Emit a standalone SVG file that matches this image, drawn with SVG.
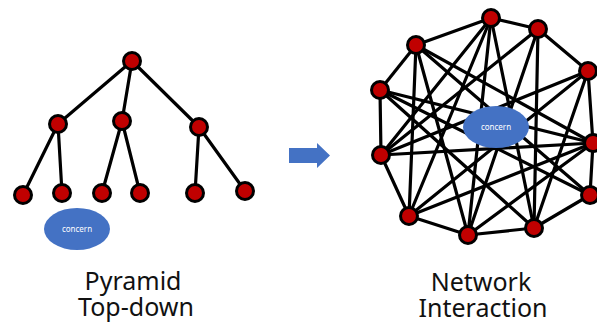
<svg xmlns="http://www.w3.org/2000/svg" width="597" height="325" viewBox="0 0 597 325">
  <style>
    .edge { stroke: #000; stroke-width: 3.2; stroke-linecap: round; fill: none; }
    .node { fill: #C00000; stroke: #000; stroke-width: 3; }
    .concern { fill: #4472C4; }
    .concern-text { fill: #fff; font-family: "Noto Sans", "DejaVu Sans", sans-serif; font-size: 8px; text-anchor: middle; }
    .caption { fill: #111; font-family: "Noto Sans", "DejaVu Sans", sans-serif; font-size: 25px; text-anchor: middle; }
  </style>
  <rect width="597" height="325" fill="#fff"/>

  <!-- Pyramid tree: connectors -->
  <g id="tree-edges">
    <line class="edge" x1="132" y1="61" x2="58" y2="124"/>
    <line class="edge" x1="132" y1="61" x2="122" y2="121"/>
    <line class="edge" x1="132" y1="61" x2="199" y2="127"/>
    <line class="edge" x1="58" y1="124" x2="23" y2="195"/>
    <line class="edge" x1="58" y1="124" x2="62" y2="193"/>
    <line class="edge" x1="122" y1="121" x2="102" y2="193"/>
    <line class="edge" x1="122" y1="121" x2="140" y2="193"/>
    <line class="edge" x1="199" y1="127" x2="195" y2="193"/>
    <line class="edge" x1="199" y1="127" x2="245" y2="191"/>
  </g>

  <!-- Pyramid tree: nodes -->
  <g id="t-root"><circle class="node" cx="132" cy="61" r="8.5"/></g>
  <g id="t-l1"><circle class="node" cx="58" cy="124" r="8.5"/></g>
  <g id="t-l2"><circle class="node" cx="122" cy="121" r="8.5"/></g>
  <g id="t-l3"><circle class="node" cx="199" cy="127" r="8.5"/></g>
  <g id="t-c1"><circle class="node" cx="23" cy="195" r="8.5"/></g>
  <g id="t-c2"><circle class="node" cx="62" cy="193" r="8.5"/></g>
  <g id="t-c3"><circle class="node" cx="102" cy="193" r="8.5"/></g>
  <g id="t-c4"><circle class="node" cx="140" cy="193" r="8.5"/></g>
  <g id="t-c5"><circle class="node" cx="195" cy="193" r="8.5"/></g>
  <g id="t-c6"><circle class="node" cx="245" cy="191" r="8.5"/></g>

  <g id="tree-concern">
    <ellipse class="concern" cx="77" cy="229" rx="33" ry="21"/>
    <text class="concern-text" x="77" y="232">concern</text>
  </g>

  <!-- Transition arrow -->
  <g id="arrow">
    <polygon fill="#4472C4" points="289,148 317,148 317,143 330,155.5 317,168 317,163 289,163"/>
  </g>

  <!-- Network: connectors -->
  <g id="net-edges">
    <!-- ring -->
    <line class="edge" x1="416" y1="45" x2="491" y2="18"/>
    <line class="edge" x1="491" y1="18" x2="538" y2="29"/>
    <line class="edge" x1="538" y1="29" x2="588" y2="71"/>
    <line class="edge" x1="588" y1="71" x2="593" y2="143"/>
    <line class="edge" x1="593" y1="143" x2="590" y2="195"/>
    <line class="edge" x1="590" y1="195" x2="534" y2="228"/>
    <line class="edge" x1="534" y1="228" x2="468" y2="235"/>
    <line class="edge" x1="468" y1="235" x2="409" y2="216"/>
    <line class="edge" x1="409" y1="216" x2="381" y2="155"/>
    <line class="edge" x1="381" y1="155" x2="380" y2="90"/>
    <line class="edge" x1="380" y1="90" x2="416" y2="45"/>
    <!-- chords -->
    <line class="edge" x1="416" y1="45" x2="409" y2="216"/>
    <line class="edge" x1="416" y1="45" x2="468" y2="235"/>
    <line class="edge" x1="416" y1="45" x2="590" y2="195"/>
    <line class="edge" x1="416" y1="45" x2="593" y2="143"/>
    <line class="edge" x1="380" y1="90" x2="593" y2="143"/>
    <line class="edge" x1="380" y1="90" x2="590" y2="195"/>
    <line class="edge" x1="380" y1="90" x2="534" y2="228"/>
    <line class="edge" x1="381" y1="155" x2="491" y2="18"/>
    <line class="edge" x1="381" y1="155" x2="538" y2="29"/>
    <line class="edge" x1="381" y1="155" x2="588" y2="71"/>
    <line class="edge" x1="381" y1="155" x2="593" y2="143"/>
    <line class="edge" x1="409" y1="216" x2="491" y2="18"/>
    <line class="edge" x1="409" y1="216" x2="593" y2="143"/>
    <line class="edge" x1="409" y1="216" x2="588" y2="71"/>
    <line class="edge" x1="468" y1="235" x2="491" y2="18"/>
    <line class="edge" x1="468" y1="235" x2="538" y2="29"/>
    <line class="edge" x1="468" y1="235" x2="593" y2="143"/>
    <line class="edge" x1="534" y1="228" x2="491" y2="18"/>
    <line class="edge" x1="534" y1="228" x2="538" y2="29"/>
    <line class="edge" x1="534" y1="228" x2="588" y2="71"/>
  </g>

  <g id="net-concern">
    <ellipse class="concern" cx="496" cy="127" rx="33" ry="21"/>
    <text class="concern-text" x="496" y="130">concern</text>
  </g>

  <!-- Network: nodes -->
  <g id="n-a"><circle class="node" cx="491" cy="18" r="8.5"/></g>
  <g id="n-b"><circle class="node" cx="538" cy="29" r="8.5"/></g>
  <g id="n-c"><circle class="node" cx="588" cy="71" r="8.5"/></g>
  <g id="n-d"><circle class="node" cx="593" cy="143" r="8.5"/></g>
  <g id="n-e"><circle class="node" cx="590" cy="195" r="8.5"/></g>
  <g id="n-f"><circle class="node" cx="534" cy="228" r="8.5"/></g>
  <g id="n-g"><circle class="node" cx="468" cy="235" r="8.5"/></g>
  <g id="n-h"><circle class="node" cx="409" cy="216" r="8.5"/></g>
  <g id="n-i"><circle class="node" cx="381" cy="155" r="8.5"/></g>
  <g id="n-j"><circle class="node" cx="380" cy="90" r="8.5"/></g>
  <g id="n-k"><circle class="node" cx="416" cy="45" r="8.5"/></g>

  <!-- Captions -->
  <g id="captions">
    <text class="caption" x="133" y="290">Pyramid</text>
    <text class="caption" x="136" y="316">Top-down</text>
    <text class="caption" x="481" y="291">Network</text>
    <text class="caption" x="483" y="317">Interaction</text>
  </g>
</svg>
